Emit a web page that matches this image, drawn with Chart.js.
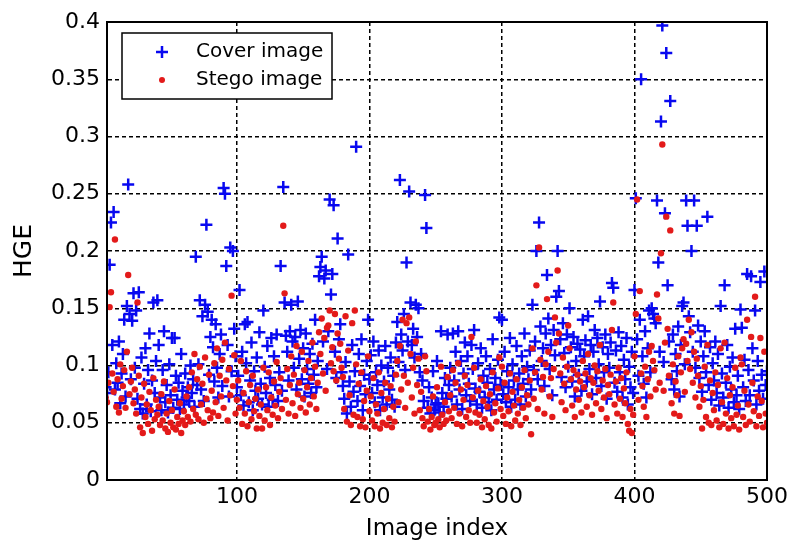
<!DOCTYPE html>
<html>
<head>
<meta charset="utf-8">
<script src="https://cdn.jsdelivr.net/npm/chart.js@4/dist/chart.umd.min.js"></script>
<style>
  html, body { margin: 0; padding: 0; background: #fff; }
  #wrap { width: 792px; height: 545px; }
</style>
</head>
<body>
<div id="wrap"><canvas id="chart" width="792" height="545"></canvas></div>
<script>
// HGE per image index (1..500)
const cover = [
  0.081, 0.076, 0.094, 0.188, 0.225, 0.118, 0.234, 0.079, 0.102, 0.085, 0.121, 0.067, 0.093, 0.110, 0.140, 0.073, 0.152, 0.258, 0.145, 0.088,
  0.139, 0.163, 0.098, 0.148, 0.071, 0.164, 0.062, 0.107, 0.058, 0.084, 0.115, 0.066, 0.096, 0.128, 0.060, 0.087, 0.155, 0.076, 0.104, 0.157,
  0.118, 0.072, 0.061, 0.096, 0.130, 0.068, 0.083, 0.059, 0.101, 0.074, 0.124, 0.063, 0.124, 0.091, 0.070, 0.085, 0.062, 0.110, 0.078, 0.066,
  0.093, 0.072, 0.081, 0.069, 0.100, 0.076, 0.088, 0.064, 0.195, 0.083, 0.101, 0.157, 0.079, 0.143, 0.069, 0.153, 0.223, 0.147, 0.092, 0.125,
  0.140, 0.116, 0.086, 0.136, 0.098, 0.072, 0.110, 0.127, 0.082, 0.255, 0.250, 0.187, 0.118, 0.073, 0.203, 0.095, 0.200, 0.132, 0.108, 0.081,
  0.091, 0.166, 0.074, 0.112, 0.065, 0.136, 0.102, 0.138, 0.068, 0.087, 0.120, 0.061, 0.095, 0.078, 0.107, 0.071, 0.129, 0.084, 0.066, 0.148,
  0.099, 0.076, 0.117, 0.064, 0.089, 0.124, 0.070, 0.108, 0.083, 0.127, 0.069, 0.094, 0.187, 0.078, 0.256, 0.155, 0.126, 0.112, 0.087, 0.130,
  0.153, 0.121, 0.098, 0.125, 0.079, 0.156, 0.106, 0.131, 0.088, 0.115, 0.073, 0.128, 0.097, 0.084, 0.110, 0.076, 0.119, 0.092, 0.140, 0.081,
  0.104, 0.178, 0.186, 0.195, 0.121, 0.176, 0.183, 0.097, 0.130, 0.245, 0.162, 0.180, 0.240, 0.112, 0.089, 0.211, 0.123, 0.136, 0.094, 0.082,
  0.071, 0.103, 0.058, 0.197, 0.086, 0.064, 0.118, 0.077, 0.095, 0.291, 0.069, 0.110, 0.082, 0.123, 0.061, 0.092, 0.075, 0.104, 0.140, 0.088,
  0.109, 0.076, 0.121, 0.068, 0.094, 0.083, 0.113, 0.061, 0.100, 0.072, 0.086, 0.117, 0.066, 0.098, 0.079, 0.107, 0.070, 0.091, 0.064, 0.120,
  0.138, 0.103, 0.262, 0.127, 0.113, 0.145, 0.096, 0.190, 0.121, 0.252, 0.155, 0.118, 0.132, 0.107, 0.153, 0.125, 0.150, 0.094, 0.110, 0.087,
  0.069, 0.249, 0.220, 0.063, 0.081, 0.058, 0.072, 0.095, 0.061, 0.066, 0.104, 0.067, 0.059, 0.130, 0.076, 0.064, 0.089, 0.071, 0.127, 0.083,
  0.098, 0.073, 0.128, 0.087, 0.112, 0.066, 0.130, 0.079, 0.104, 0.062, 0.093, 0.120, 0.074, 0.108, 0.084, 0.069, 0.118, 0.097, 0.131, 0.080,
  0.066, 0.102, 0.077, 0.115, 0.063, 0.091, 0.072, 0.108, 0.085, 0.068, 0.097, 0.061, 0.123, 0.079, 0.089, 0.070, 0.105, 0.142, 0.083, 0.140,
  0.075, 0.112, 0.068, 0.095, 0.081, 0.124, 0.064, 0.101, 0.087, 0.070, 0.117, 0.079, 0.093, 0.066, 0.108, 0.084, 0.128, 0.073, 0.099, 0.088,
  0.113, 0.079, 0.153, 0.096, 0.121, 0.200, 0.088, 0.225, 0.134, 0.104, 0.115, 0.082, 0.128, 0.179, 0.141, 0.097, 0.118, 0.074, 0.131, 0.109,
  0.160, 0.200, 0.165, 0.123, 0.090, 0.137, 0.111, 0.081, 0.127, 0.099, 0.150, 0.116, 0.086, 0.125, 0.073, 0.104, 0.119, 0.092, 0.114, 0.078,
  0.140, 0.108, 0.122, 0.086, 0.143, 0.097, 0.118, 0.075, 0.112, 0.131, 0.089, 0.124, 0.101, 0.156, 0.082, 0.116, 0.094, 0.127, 0.071, 0.110,
  0.098, 0.120, 0.172, 0.168, 0.085, 0.113, 0.077, 0.129, 0.094, 0.117, 0.072, 0.105, 0.088, 0.124, 0.066, 0.099, 0.081, 0.112, 0.076, 0.166,
  0.246, 0.123, 0.091, 0.140, 0.350, 0.108, 0.084, 0.130, 0.072, 0.115, 0.148, 0.094, 0.150, 0.145, 0.141, 0.137, 0.244, 0.190, 0.112, 0.313,
  0.397, 0.103, 0.233, 0.373, 0.170, 0.121, 0.331, 0.088, 0.127, 0.079, 0.110, 0.095, 0.134, 0.073, 0.118, 0.152, 0.155, 0.101, 0.244, 0.222,
  0.143, 0.129, 0.200, 0.112, 0.244, 0.098, 0.222, 0.135, 0.089, 0.121, 0.077, 0.108, 0.130, 0.094, 0.230, 0.083, 0.116, 0.070, 0.102, 0.087,
  0.121, 0.076, 0.110, 0.065, 0.152, 0.093, 0.072, 0.170, 0.085, 0.118, 0.063, 0.099, 0.079, 0.107, 0.068, 0.132, 0.074, 0.091, 0.062, 0.149,
  0.133, 0.081, 0.105, 0.069, 0.180, 0.096, 0.074, 0.178, 0.115, 0.087, 0.148, 0.066, 0.104, 0.078, 0.173, 0.092, 0.071, 0.182, 0.083, 0.095
];

const stego = [
  0.072, 0.068, 0.085, 0.151, 0.164, 0.093, 0.077, 0.210, 0.064, 0.088, 0.059, 0.101, 0.071, 0.082, 0.096, 0.063, 0.112, 0.179, 0.075, 0.086,
  0.098, 0.067, 0.079, 0.058, 0.155, 0.091, 0.046, 0.072, 0.041, 0.084, 0.055, 0.066, 0.049, 0.077, 0.061, 0.043, 0.089, 0.053, 0.070, 0.057,
  0.064, 0.048, 0.075, 0.052, 0.086, 0.045, 0.058, 0.042, 0.069, 0.050, 0.061, 0.046, 0.079, 0.044, 0.055, 0.049, 0.067, 0.041, 0.052, 0.060,
  0.048, 0.073, 0.055, 0.081, 0.051, 0.094, 0.062, 0.110, 0.057, 0.088, 0.053, 0.099, 0.066, 0.084, 0.050, 0.107, 0.071, 0.061, 0.092, 0.054,
  0.078, 0.059, 0.102, 0.068, 0.115, 0.056, 0.091, 0.073, 0.105, 0.063, 0.120, 0.087, 0.052, 0.097, 0.074, 0.161, 0.082, 0.109, 0.058, 0.070,
  0.087, 0.063, 0.104, 0.049, 0.076, 0.058, 0.095, 0.047, 0.068, 0.083, 0.053, 0.091, 0.060, 0.071, 0.045, 0.079, 0.056, 0.066, 0.045, 0.098,
  0.052, 0.081, 0.061, 0.094, 0.048, 0.072, 0.057, 0.086, 0.065, 0.103, 0.054, 0.077, 0.089, 0.062, 0.222, 0.163, 0.070, 0.097, 0.058, 0.083,
  0.108, 0.067, 0.092, 0.056, 0.117, 0.075, 0.085, 0.063, 0.112, 0.071, 0.096, 0.059, 0.081, 0.104, 0.066, 0.089, 0.120, 0.073, 0.099, 0.062,
  0.085, 0.129, 0.110, 0.141, 0.093, 0.124, 0.078, 0.133, 0.135, 0.148, 0.102, 0.116, 0.095, 0.145, 0.087, 0.128, 0.106, 0.119, 0.098, 0.090,
  0.062, 0.143, 0.051, 0.113, 0.074, 0.048, 0.137, 0.057, 0.148, 0.101, 0.055, 0.084, 0.047, 0.094, 0.053, 0.069, 0.046, 0.078, 0.108, 0.060,
  0.073, 0.052, 0.089, 0.047, 0.066, 0.058, 0.094, 0.045, 0.076, 0.050, 0.062, 0.085, 0.048, 0.071, 0.054, 0.082, 0.046, 0.064, 0.051, 0.092,
  0.104, 0.068, 0.117, 0.079, 0.140, 0.091, 0.063, 0.137, 0.085, 0.142, 0.110, 0.072, 0.098, 0.058, 0.121, 0.083, 0.106, 0.061, 0.077, 0.054,
  0.047, 0.108, 0.095, 0.051, 0.062, 0.044, 0.055, 0.073, 0.048, 0.050, 0.081, 0.053, 0.046, 0.099, 0.057, 0.049, 0.068, 0.052, 0.090, 0.060,
  0.074, 0.054, 0.096, 0.063, 0.085, 0.049, 0.102, 0.058, 0.079, 0.047, 0.070, 0.091, 0.055, 0.083, 0.061, 0.050, 0.125, 0.072, 0.098, 0.059,
  0.050, 0.078, 0.057, 0.088, 0.046, 0.069, 0.053, 0.082, 0.064, 0.048, 0.075, 0.045, 0.094, 0.059, 0.067, 0.051, 0.080, 0.107, 0.062, 0.099,
  0.056, 0.085, 0.049, 0.072, 0.060, 0.093, 0.047, 0.077, 0.065, 0.052, 0.088, 0.058, 0.070, 0.048, 0.081, 0.063, 0.096, 0.054, 0.074, 0.066,
  0.087, 0.040, 0.115, 0.071, 0.094, 0.170, 0.062, 0.203, 0.105, 0.079, 0.090, 0.058, 0.101, 0.158, 0.112, 0.073, 0.089, 0.055, 0.097, 0.142,
  0.120, 0.183, 0.128, 0.093, 0.068, 0.107, 0.084, 0.061, 0.099, 0.135, 0.115, 0.088, 0.065, 0.096, 0.055, 0.079, 0.092, 0.070, 0.086, 0.059,
  0.104, 0.081, 0.093, 0.064, 0.110, 0.074, 0.089, 0.057, 0.085, 0.100, 0.067, 0.095, 0.078, 0.118, 0.062, 0.087, 0.072, 0.097, 0.054, 0.083,
  0.075, 0.092, 0.131, 0.155, 0.066, 0.086, 0.058, 0.098, 0.071, 0.089, 0.055, 0.080, 0.067, 0.094, 0.049, 0.043, 0.062, 0.041, 0.057, 0.108,
  0.145, 0.245, 0.070, 0.165, 0.093, 0.082, 0.064, 0.099, 0.055, 0.088, 0.112, 0.073, 0.117, 0.104, 0.096, 0.079, 0.162, 0.141, 0.085, 0.198,
  0.293, 0.078, 0.120, 0.230, 0.132, 0.091, 0.218, 0.067, 0.101, 0.058, 0.086, 0.074, 0.108, 0.056, 0.094, 0.115, 0.123, 0.077, 0.119, 0.104,
  0.140, 0.097, 0.129, 0.085, 0.112, 0.072, 0.106, 0.091, 0.064, 0.082, 0.045, 0.070, 0.099, 0.055, 0.118, 0.050, 0.087, 0.048, 0.076, 0.061,
  0.094, 0.052, 0.083, 0.046, 0.115, 0.068, 0.049, 0.120, 0.058, 0.089, 0.045, 0.074, 0.054, 0.081, 0.047, 0.098, 0.057, 0.065, 0.044, 0.107,
  0.101, 0.055, 0.078, 0.048, 0.140, 0.066, 0.051, 0.125, 0.085, 0.060, 0.160, 0.047, 0.073, 0.056, 0.124, 0.069, 0.046, 0.112, 0.058, 0.050
];

const xTicks = [100, 200, 300, 400, 500];
const yTicks = [0, 0.05, 0.1, 0.15, 0.2, 0.25, 0.3, 0.35, 0.4];
const yTickLabels = ['0', '0.05', '0.1', '0.15', '0.2', '0.25', '0.3', '0.35', '0.4'];
const seriesNames = ['Cover image', 'Stego image'];

const FONT = '"DejaVu Sans", sans-serif';
const BLUE = '#0808f0';
const RED = '#e31a1a';

// box round the plot + legend drawn inside the axes, MATLAB style
const framePlugin = {
  id: 'frame',
  afterDraw(chart) {
    const { ctx, chartArea: ca } = chart;
    ctx.save();
    ctx.strokeStyle = '#000';
    ctx.lineWidth = 2;
    ctx.strokeRect(ca.left, ca.top, ca.right - ca.left, ca.bottom - ca.top);

    // legend
    const lx = ca.left + 15, ly = ca.top + 11, lw = 210, lh = 66;
    ctx.fillStyle = '#fff';
    ctx.fillRect(lx, ly, lw, lh);
    ctx.lineWidth = 1.5;
    ctx.strokeRect(lx, ly, lw, lh);

    const mx = lx + 40;
    const r1 = ly + 19, r2 = ly + 47;
    ctx.strokeStyle = BLUE;
    ctx.lineWidth = 2.5;
    ctx.beginPath();
    ctx.moveTo(mx - 6, r1); ctx.lineTo(mx + 6, r1);
    ctx.moveTo(mx, r1 - 6); ctx.lineTo(mx, r1 + 6);
    ctx.stroke();
    ctx.fillStyle = RED;
    ctx.beginPath();
    ctx.arc(mx, r2, 3, 0, Math.PI * 2);
    ctx.fill();

    ctx.fillStyle = '#000';
    ctx.font = '20px ' + FONT;
    ctx.textBaseline = 'middle';
    ctx.fillText(seriesNames[0], lx + 74, r1);
    ctx.fillText(seriesNames[1], lx + 74, r2);
    ctx.restore();
  }
};

const ctx = document.getElementById('chart').getContext('2d');
new Chart(ctx, {
  type: 'scatter',
  data: {
    datasets: [
      {
        label: seriesNames[0],
        data: cover.map((v, i) => ({ x: i + 1, y: v })),
        pointStyle: 'cross',
        pointRadius: 6,
        pointBorderWidth: 2.5,
        borderColor: BLUE,
        backgroundColor: BLUE,
        order: 1
      },
      {
        label: seriesNames[1],
        data: stego.map((v, i) => ({ x: i + 1, y: v })),
        pointStyle: 'circle',
        pointRadius: 3.2,
        pointBorderWidth: 0,
        borderColor: RED,
        backgroundColor: RED,
        order: 0
      }
    ]
  },
  options: {
    responsive: false,
    animation: false,
    layout: { padding: { left: 0, right: 24, top: 22, bottom: 0 } },
    plugins: {
      legend: { display: false },
      tooltip: { enabled: false }
    },
    scales: {
      x: {
        type: 'linear',
        min: 2,
        max: 500,
        afterBuildTicks: s => { s.ticks = xTicks.map(v => ({ value: v })); },
        afterFit: s => { s.height = 65; },
        grid: { color: '#000', lineWidth: 1.5, drawTicks: false },
        border: { color: '#000', width: 2, dash: [4, 3] },
        ticks: { color: '#000', font: { family: FONT, size: 22 }, padding: 4, maxRotation: 0 },
        title: { display: true, text: 'Image index', color: '#000', font: { family: FONT, size: 23 }, padding: { top: 0, bottom: 2 } }
      },
      y: {
        min: 0,
        max: 0.4,
        afterBuildTicks: s => { s.ticks = yTicks.map(v => ({ value: v })); },
        afterFit: s => { s.width = 107; },
        grid: { color: '#000', lineWidth: 1.5, drawTicks: false },
        border: { color: '#000', width: 2, dash: [4, 3] },
        ticks: {
          color: '#000',
          font: { family: FONT, size: 22 },
          padding: 7,
          callback: (v) => { const k = yTicks.indexOf(v); return k >= 0 ? yTickLabels[k] : ''; }
        },
        title: { display: true, text: 'HGE', color: '#000', font: { family: FONT, size: 25 }, padding: { top: 9, bottom: 0 } }
      }
    }
  },
  plugins: [framePlugin]
});
</script>
</body>
</html>
